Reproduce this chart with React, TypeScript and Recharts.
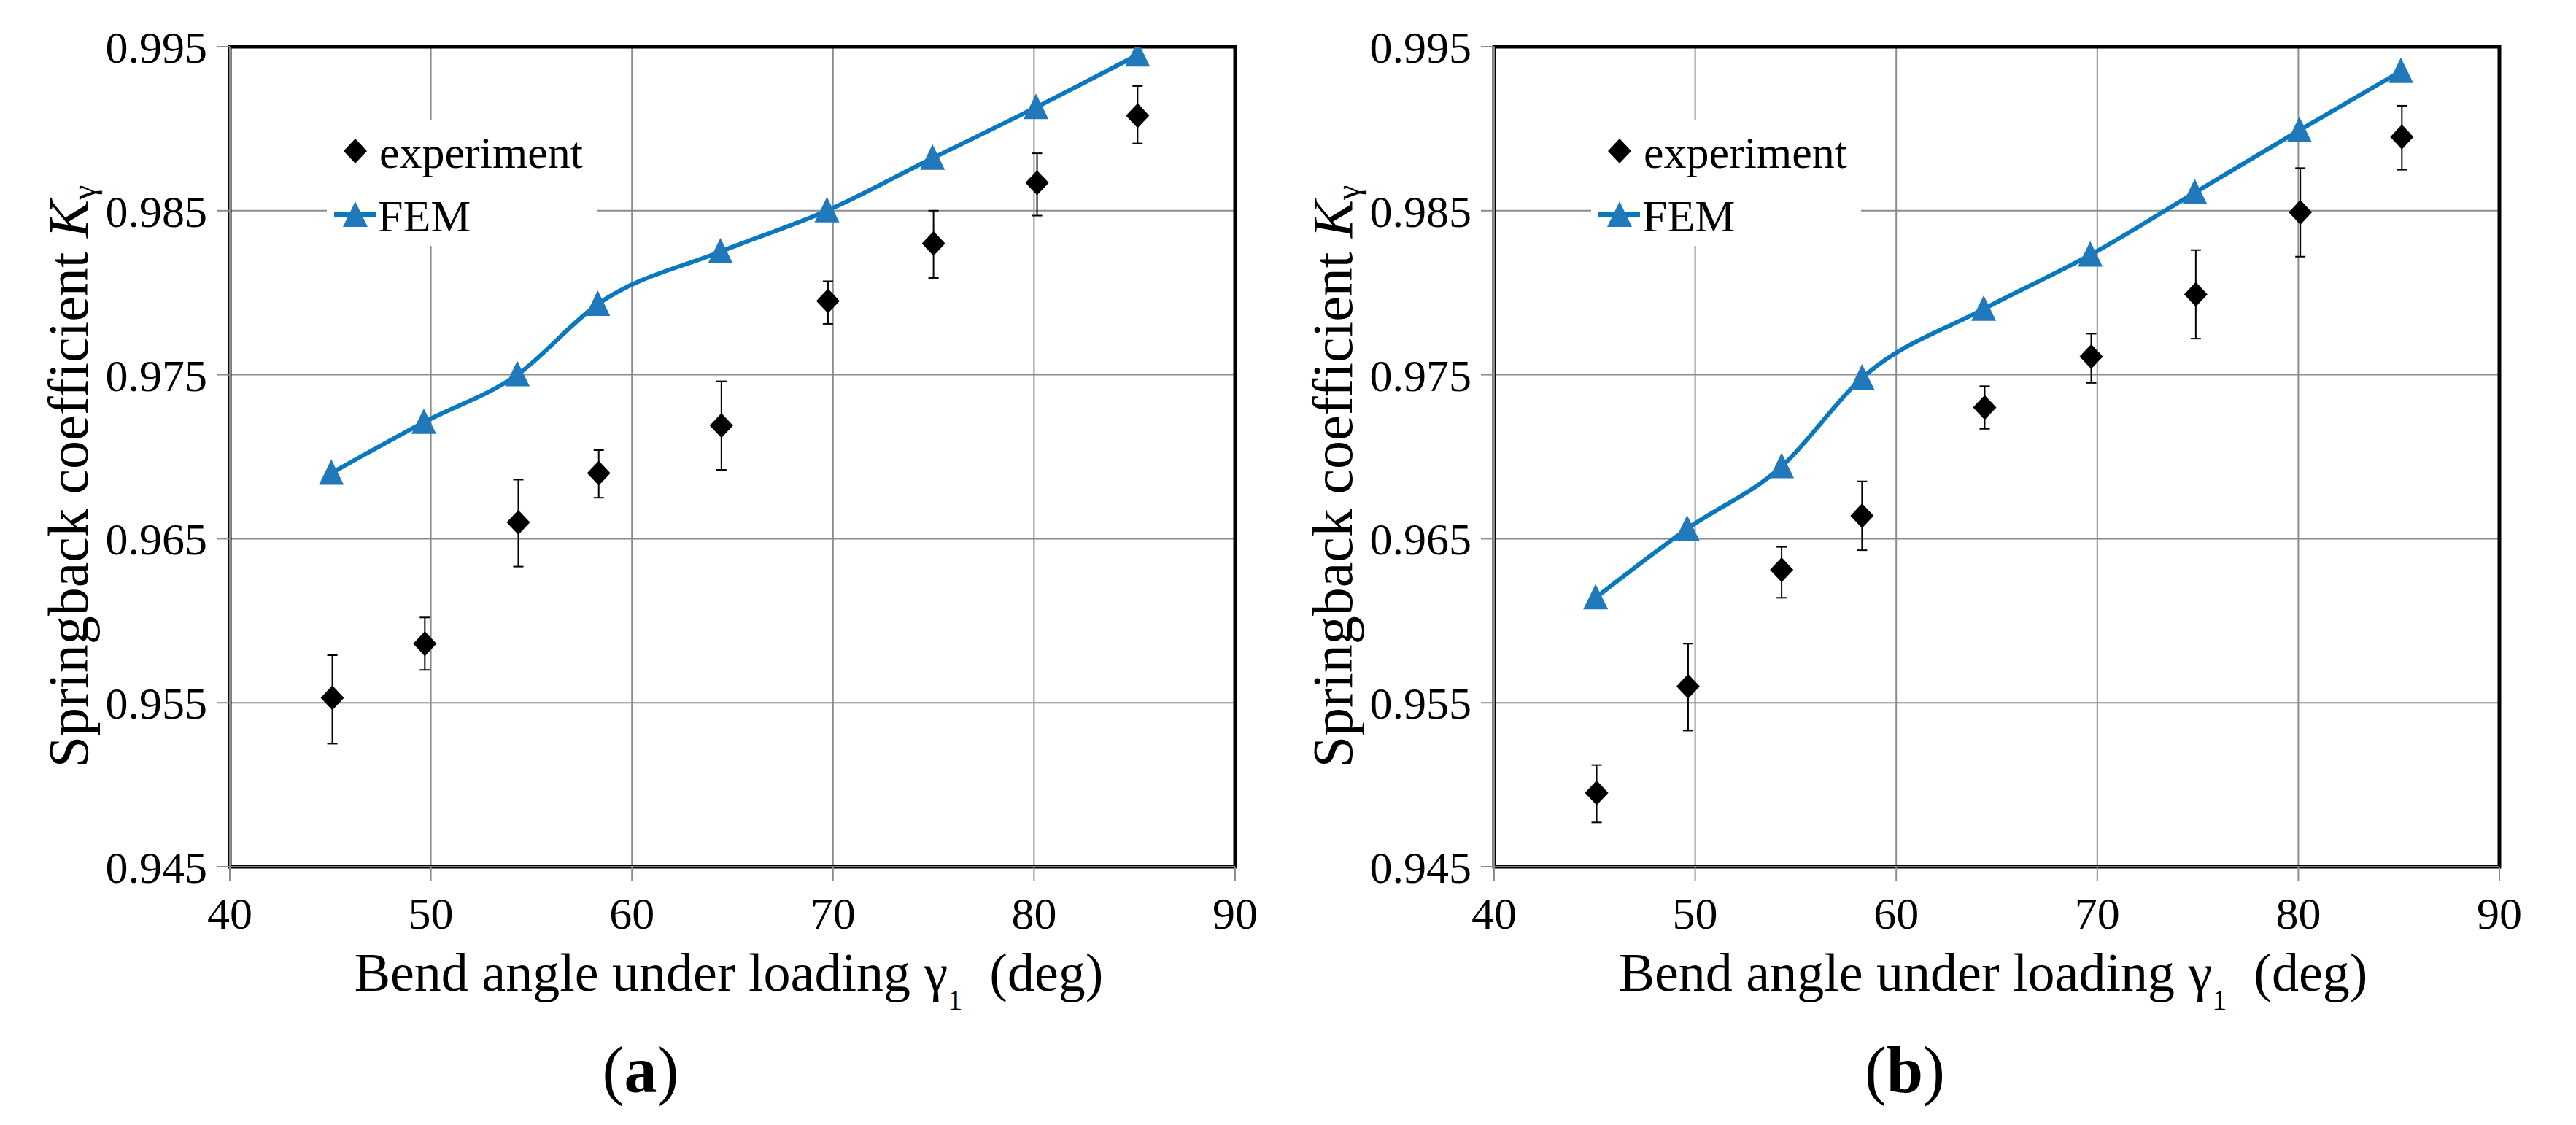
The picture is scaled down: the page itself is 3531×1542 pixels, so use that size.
import {
  CartesianGrid,
  ComposedChart,
  ErrorBar,
  Legend,
  Line,
  ReferenceArea,
  Scatter,
  XAxis,
  YAxis,
} from "recharts";

const X_TICKS = [40, 50, 60, 70, 80, 90];
const Y_TICKS = [0.945, 0.955, 0.965, 0.975, 0.985, 0.995];

// panel (a)
const A_FEM_X = [45.05, 49.65, 54.3, 58.3, 64.4, 69.7, 74.95, 80.1, 85.15];
const A_FEM_Y = [0.969, 0.9721, 0.975, 0.9793, 0.9825, 0.985, 0.9882, 0.9913, 0.9945];
const A_EXP_X = [45.1, 49.7, 54.35, 58.35, 64.45, 69.75, 75.0, 80.15, 85.15];
const A_EXP_Y = [0.9553, 0.9586, 0.966, 0.969, 0.9719, 0.9795, 0.983, 0.9867, 0.9908];
const A_EXP_HI = [0.9579, 0.9602, 0.9686, 0.9704, 0.9746, 0.9807, 0.985, 0.9885, 0.9926];
const A_EXP_LO = [0.9525, 0.957, 0.9633, 0.9675, 0.9692, 0.9781, 0.9809, 0.9847, 0.9891];

// panel (b)
const B_FEM_X = [45.05, 49.6, 54.3, 58.3, 64.35, 69.65, 74.85, 80.05, 85.1];
const B_FEM_Y = [0.9614, 0.9656, 0.9694, 0.9748, 0.979, 0.9823, 0.9861, 0.9899, 0.9935];
const B_EXP_X = [45.1, 49.65, 54.3, 58.3, 64.4, 69.7, 74.9, 80.1, 85.15];
const B_EXP_Y = [0.9495, 0.956, 0.9631, 0.9664, 0.973, 0.9761, 0.9799, 0.9849, 0.9895];
const B_EXP_HI = [0.9512, 0.9586, 0.9645, 0.9685, 0.9743, 0.9775, 0.9826, 0.9876, 0.9914];
const B_EXP_LO = [0.9477, 0.9533, 0.9614, 0.9643, 0.9717, 0.9745, 0.9772, 0.9822, 0.9875];

const EXP_NAME = "experiment";
const FEM_NAME = "FEM";

const FONT = "'Liberation Serif', 'Times New Roman', serif";
const FEM_LINE = "#0a78bf";
const FEM_MARK = "#2178ba";
const GRID = "#8c8c8c";

function lineRows(xs: number[], ys: number[]) {
  return xs.map((x, i) => ({ x, y: ys[i] }));
}

function expRows(xs: number[], ys: number[], hi: number[], lo: number[]) {
  return xs.map((x, i) => ({ x, y: ys[i], err: [ys[i] - lo[i], hi[i] - ys[i]] }));
}

const Diamond = (props: any) => {
  const { cx, cy } = props;
  if (cx == null || cy == null) return <g />;
  return (
    <polygon
      points={`${cx},${cy - 17} ${cx + 16},${cy} ${cx},${cy + 17} ${cx - 16},${cy}`}
      fill="#000"
    />
  );
};

const Triangle = (props: any) => {
  const { cx, cy, index } = props;
  if (cx == null || cy == null) return <g key={index} />;
  return (
    <polygon
      key={index}
      points={`${cx - 17},${cy + 16} ${cx},${cy - 19} ${cx + 17},${cy + 16}`}
      fill={FEM_MARK}
    />
  );
};

function FigureLegend() {
  return (
    <div style={{ width: 370, height: 172, background: "#fff" }}>
      <svg width={370} height={172} style={{ display: "block" }}>
        <polygon points="39,25 55,42 39,59 23,42" fill="#000" />
        <text x={72} y={65} fontFamily={FONT} fontSize={62} fill="#000">
          {EXP_NAME}
        </text>
        <line x1={10} x2={67} y1={129} y2={129} stroke={FEM_LINE} strokeWidth={6} />
        <polygon points="22,146 39,111 56,146" fill={FEM_MARK} />
        <text x={70} y={152} fontFamily={FONT} fontSize={62} fill="#000">
          {FEM_NAME}
        </text>
      </svg>
    </div>
  );
}

const xTitle = (panel: string) => (props: any) => {
  const vb = props.viewBox;
  const cx = vb.x + vb.width / 2;
  return (
    <g>
      <text x={cx - 5} y={vb.y + 170} textAnchor="middle" fontFamily={FONT} fontSize={74} fill="#000">
        Bend angle under loading γ
        <tspan fontSize={40} dy={26}>1</tspan>
        <tspan dy={-26}>{"\u00a0 (deg)"}</tspan>
      </text>
      <text x={cx - 126} y={vb.y + 309} textAnchor="middle" fontFamily={FONT} fontSize={90} fill="#000">
        (<tspan fontWeight="bold">{panel}</tspan>)
      </text>
    </g>
  );
};

const yTitle = (props: any) => {
  const vb = props.viewBox;
  const bx = vb.x + 5;
  const cy = vb.y + vb.height / 2 + 27;
  return (
    <text
      transform={`rotate(-90, ${bx}, ${cy})`}
      x={bx}
      y={cy}
      textAnchor="middle"
      fontFamily={FONT}
      fontSize={78}
      fill="#000"
    >
      Springback coefficient <tspan fontStyle="italic">K</tspan>
      <tspan fontSize={46} dy={10}>γ</tspan>
    </text>
  );
};

function Panel({
  panel,
  fem,
  exp,
}: {
  panel: string;
  fem: { x: number; y: number }[];
  exp: { x: number; y: number; err: number[] }[];
}) {
  return (
    <ComposedChart
      width={1765}
      height={1542}
      margin={{ top: 64, right: 72, bottom: 184, left: 115 }}
      style={{ fontFamily: FONT }}
    >
      <CartesianGrid stroke={GRID} strokeWidth={2} />
      <XAxis
        type="number"
        dataKey="x"
        domain={[40, 90]}
        ticks={X_TICKS}
        allowDataOverflow
        height={170}
        axisLine={{ stroke: GRID, strokeWidth: 2 }}
        tickLine={{ stroke: GRID, strokeWidth: 2 }}
        tickSize={20}
        tickMargin={21}
        tick={{ fill: "#000", fontSize: 62, fontFamily: FONT }}
        label={xTitle(panel)}
      />
      <YAxis
        type="number"
        domain={[0.945, 0.995]}
        ticks={Y_TICKS}
        allowDataOverflow
        width={200}
        axisLine={{ stroke: GRID, strokeWidth: 2 }}
        tickLine={{ stroke: GRID, strokeWidth: 2 }}
        tickSize={18}
        tickMargin={13}
        tickFormatter={(v: number) => v.toFixed(3)}
        tick={{ fill: "#000", fontSize: 62, fontFamily: FONT }}
        label={yTitle}
      />
      <ReferenceArea
        x1={40}
        x2={90}
        y1={0.945}
        y2={0.995}
        fill="none"
        stroke="#000"
        strokeWidth={5}
        ifOverflow="visible"
      />
      <Legend
        layout="vertical"
        align="center"
        verticalAlign="middle"
        wrapperStyle={{ left: 448, top: 165, width: 370, height: 172 }}
        content={() => <FigureLegend />}
      />
      <Line
        data={fem}
        dataKey="y"
        name={FEM_NAME}
        type="monotone"
        stroke={FEM_LINE}
        strokeWidth={6}
        dot={Triangle}
        activeDot={false}
        isAnimationActive={false}
      />
      <Scatter data={exp} dataKey="y" name={EXP_NAME} fill="#000" shape={Diamond} isAnimationActive={false}>
        <ErrorBar dataKey="err" direction="y" width={7} stroke="#000" strokeWidth={2} isAnimationActive={false} />
      </Scatter>
    </ComposedChart>
  );
}

export default function App() {
  return (
    <div
      style={{
        position: "absolute",
        left: 0,
        top: 0,
        width: 3531,
        height: 1542,
        background: "#fff",
        fontFamily: FONT,
      }}
    >
      <div style={{ position: "absolute", left: 0, top: 0 }}>
        <Panel
          panel="a"
          fem={lineRows(A_FEM_X, A_FEM_Y)}
          exp={expRows(A_EXP_X, A_EXP_Y, A_EXP_HI, A_EXP_LO)}
        />
      </div>
      <div style={{ position: "absolute", left: 1733, top: 0 }}>
        <Panel
          panel="b"
          fem={lineRows(B_FEM_X, B_FEM_Y)}
          exp={expRows(B_EXP_X, B_EXP_Y, B_EXP_HI, B_EXP_LO)}
        />
      </div>
    </div>
  );
}
